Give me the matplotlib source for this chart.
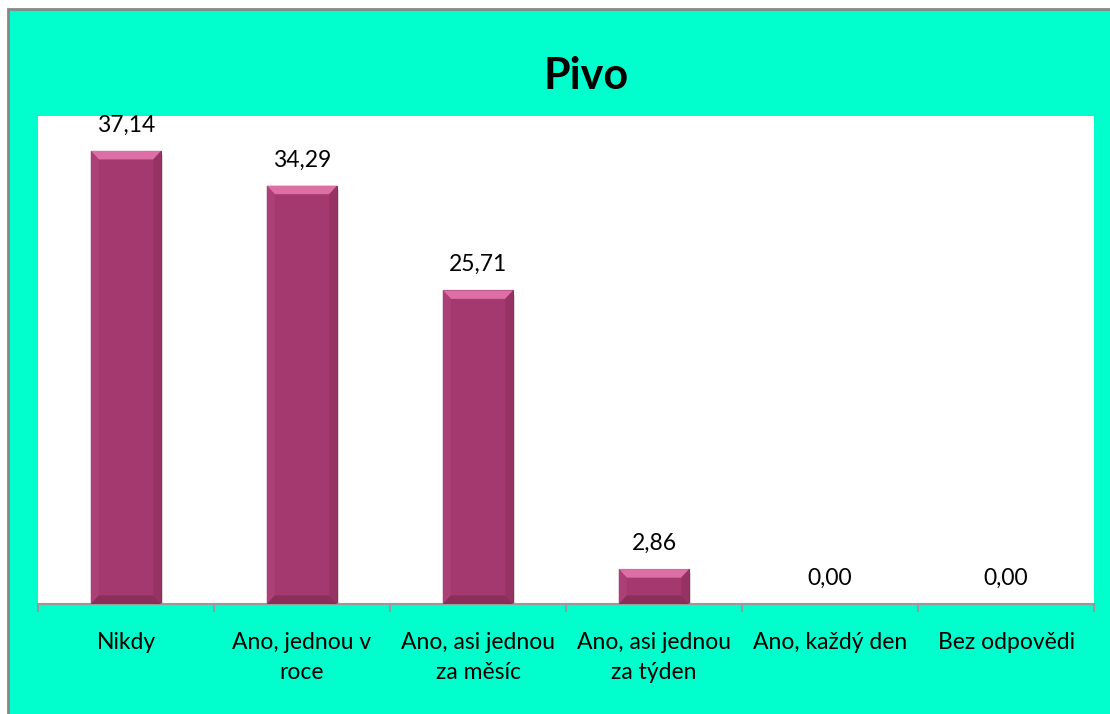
import matplotlib.pyplot as plt
from matplotlib.patches import Rectangle, Polygon

categories = ['Nikdy', 'Ano, jednou v\nroce', 'Ano, asi jednou\nza měsíc',
              'Ano, asi jednou\nza týden', 'Ano, každý den', 'Bez odpovědi']
values = [37.14, 34.29, 25.71, 2.86, 0.00, 0.00]
labels = ['37,14', '34,29', '25,71', '2,86', '0,00', '0,00']

teal = '#00FFCC'
face = '#A3396E'

plt.rcParams['font.family'] = ['Lato', 'DejaVu Sans']

fig = plt.figure(figsize=(11.1, 7.14), dpi=100, facecolor='white')
W, H = 1110, 714
fig.patches.append(Rectangle((8 / W, -0.1), 1.2, 1 - 9 / H + 0.1,
                             transform=fig.transFigure, facecolor=teal,
                             edgecolor='#888888', linewidth=2, zorder=-10))

ax = fig.add_axes([38 / W, 1 - 604 / H, 1056 / W, 488 / H])
ax.set_facecolor('white')
ax.set_xlim(0, len(categories))
ax.set_ylim(0, 40)

bw = 0.4
bx = 0.045  # bevel width in x (data units)
by = 0.7    # bevel height in y (data units)
for i, v in enumerate(values):
    if v <= 0:
        continue
    x0, x1 = i + 0.5 - bw / 2, i + 0.5 + bw / 2
    b = min(by, v / 4)
    # shadow
    ax.add_patch(Rectangle((x0 + 0.012, -0.35), bw, v, facecolor='#000000',
                           alpha=0.13, linewidth=0, zorder=1))
    ax.add_patch(Rectangle((x0, 0), bw, v, facecolor=face, edgecolor='#8A2D5C',
                           linewidth=0.8, zorder=2))
    # bevels
    ax.add_patch(Polygon([(x0, v), (x1, v), (x1 - bx, v - b), (x0 + bx, v - b)],
                         closed=True, facecolor='#DE6FA4', linewidth=0, zorder=3))
    ax.add_patch(Polygon([(x0, v), (x0 + bx, v - b), (x0 + bx, b), (x0, 0)],
                         closed=True, facecolor='#AA4077', linewidth=0, zorder=3))
    ax.add_patch(Polygon([(x1, v), (x1 - bx, v - b), (x1 - bx, b), (x1, 0)],
                         closed=True, facecolor='#953365', linewidth=0, zorder=3))
    ax.add_patch(Polygon([(x0, 0), (x1, 0), (x1 - bx, b), (x0 + bx, b)],
                         closed=True, facecolor='#883059', linewidth=0, zorder=3))

for i, (v, lab) in enumerate(zip(values, labels)):
    ax.annotate(lab, (i + 0.5, v), xytext=(0, 11), textcoords='offset points',
                ha='center', va='bottom', fontsize=16.5, color='black',
                zorder=5, annotation_clip=False)

for s in ['top', 'right', 'left']:
    ax.spines[s].set_visible(False)
ax.spines['bottom'].set_color('#999999')
ax.spines['bottom'].set_linewidth(1.5)
ax.set_yticks([])
ax.set_xticks(range(len(categories) + 1))
ax.set_xticklabels([])
ax.set_xticks([i + 0.5 for i in range(len(categories))], minor=True)
ax.set_xticklabels(categories, minor=True, fontsize=16.5, linespacing=1.55)
ax.tick_params(axis='x', which='major', length=6, width=1.5, color='#999999')
ax.tick_params(axis='x', which='minor', length=0, pad=20)

fig.text(586 / W, 1 - 76 / H, 'Pivo', ha='center', va='center', fontsize=31,
         fontweight='bold', color='black')

fig.savefig('out.png', dpi=100, facecolor=fig.get_facecolor())
